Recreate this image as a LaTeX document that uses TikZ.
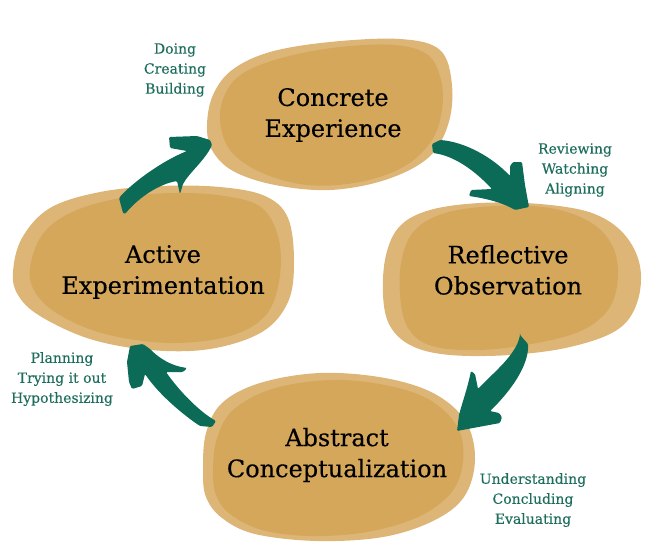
\documentclass[tikz,border=0pt]{standalone}
\usepackage{fontspec}
\setmainfont{DejaVu Serif}
\newfontfamily\labelserif[FakeBold=0.35]{DejaVu Serif}
\newfontfamily\smallserif[FakeBold=0.2]{DejaVu Serif}
\definecolor{blobout}{HTML}{DDB677}
\definecolor{blobin}{HTML}{D4A75B}
\definecolor{arrowgreen}{HTML}{0B6B57}
\definecolor{textgreen}{HTML}{1D6E5C}
\begin{document}
\begin{tikzpicture}[x=1pt,y=-1pt,
  outerblob/.style={fill=blobout},
  innerblob/.style={fill=blobin},
  cyclearrow/.style={fill=arrowgreen, rounded corners=1.2pt},
  maintext/.style={align=center, text=black, inner sep=0pt, font=\labelserif\fontsize{24}{31}\selectfont},
  smalltext/.style={align=center, text=textgreen, inner sep=0pt, font=\smallserif\fontsize{14}{20}\selectfont}]
\useasboundingbox (0,0) rectangle (647,541);
% Concrete Experience blob
\path[outerblob] plot[smooth cycle, tension=0.6] coordinates {(207,125) (213,95) (232,70) (270,52) (330,42) (400,39) (440,50) (452,85) (448,125) (428,158) (385,180) (330,190) (275,185) (233,171) (212,150)};
\path[innerblob] plot[smooth cycle, tension=0.6] coordinates {(220,120) (226,92) (245,72) (285,57) (340,47) (395,45) (428,55) (441,80) (442,110) (432,140) (405,166) (360,182) (307,185) (260,172) (230,150)};
% Active Experimentation blob
\path[outerblob] plot[smooth cycle, tension=0.6] coordinates {(13,272) (22,238) (50,208) (100,192) (160,186) (220,187) (265,196) (288,218) (294,262) (288,302) (262,332) (210,349) (150,350) (90,339) (40,316) (18,295)};
\path[innerblob] plot[smooth cycle, tension=0.6] coordinates {(30,268) (42,235) (70,213) (115,199) (170,193) (225,196) (262,208) (279,240) (279,282) (265,316) (230,336) (170,343) (105,334) (58,314) (35,292)};
% Reflective Observation blob
\path[outerblob] plot[smooth cycle, tension=0.6] coordinates {(383,295) (386,255) (400,226) (430,210) (480,203) (540,204) (592,213) (624,234) (640,266) (637,303) (617,330) (570,347) (510,355) (450,355) (412,346) (390,326)};
\path[innerblob] plot[smooth cycle, tension=0.6] coordinates {(400,295) (402,258) (415,230) (445,213) (495,206) (550,208) (590,222) (612,245) (618,275) (610,307) (583,330) (537,343) (480,350) (432,346) (408,328)};
% Abstract Conceptualization blob
\path[outerblob] plot[smooth cycle, tension=0.6] coordinates {(203,470) (206,433) (222,403) (260,383) (320,373) (385,378) (435,394) (466,422) (475,460) (464,497) (433,521) (383,537) (317,541) (255,534) (222,518) (206,497)};
\path[innerblob] plot[smooth cycle, tension=0.6] coordinates {(213,470) (217,438) (233,410) (272,389) (330,380) (385,385) (430,400) (458,428) (463,462) (451,493) (418,517) (367,532) (310,536) (262,530) (230,514) (216,495)};
% arrows
\fill[cyclearrow] (123,213) -- (119,198) .. controls (131,184) and (160,162) .. (187,151) -- (170,148) -- (169,137) -- (197,136) -- (210,140) -- (212,145) .. controls (205,160) and (190,172) .. (183,184) -- (180,194) -- (177,181) .. controls (160,184) and (140,196) .. (125,214) -- cycle;
\fill[cyclearrow] (432,144) -- (440,140) .. controls (465,142) and (492,157) .. (510,176) -- (510,166) -- (513,162) -- (522,162) -- (525,185) -- (529,207) -- (515,210) .. controls (505,204) and (490,199) .. (469,196) -- (471,190) -- (492,189) .. controls (475,171) and (455,156) .. (433,153) -- cycle;
\fill[cyclearrow] (520,335) -- (528,344) .. controls (529,365) and (511,391) .. (490,411) -- (499,413) -- (502,417) -- (500,423) -- (473,428) -- (457,431) -- (459,415) .. controls (463,400) and (467,390) .. (471,371) -- (475,374) -- (478,389) .. controls (494,372) and (516,355) .. (520,335) -- cycle;
\fill[cyclearrow] (130,346) -- (143,344) -- (150,349) .. controls (160,359) and (172,366) .. (187,368) -- (183,372) -- (166,372) .. controls (180,392) and (200,412) .. (216,421) -- (212,427) -- (200,426) .. controls (185,416) and (160,396) .. (145,374) -- (142,386) -- (132,389) -- (129,382) -- (127,362) -- cycle;
% main labels
\node[maintext] (ce) at (333,115) {Concrete\\Experience};
\node[maintext] (ae) at (163,272) {Active\\Experimentation};
\node[maintext] (ro) at (508,270) {Reflective\\Observation};
\node[maintext] (ac) at (337,455) {Abstract\\Conceptualization};
% small labels
\node[smalltext] (doing) at (175,70) {Doing\\Creating\\Building};
\node[smalltext] (reviewing) at (575,170) {Reviewing\\Watching\\Aligning};
\node[smalltext] (planning) at (62,379) {Planning\\Trying it out\\Hypothesizing};
\node[smalltext] (understanding) at (533,500) {Understanding\\Concluding\\Evaluating};
\end{tikzpicture}
\end{document}
